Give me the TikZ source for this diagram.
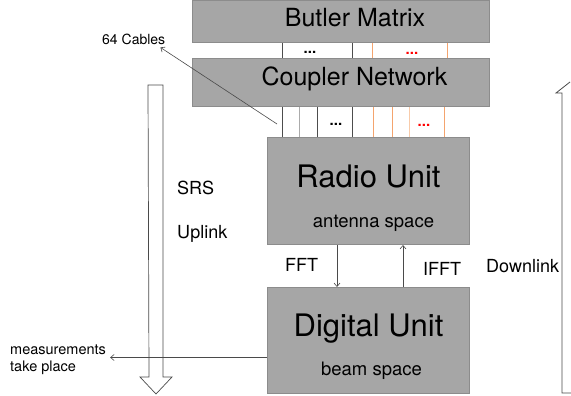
\documentclass[tikz,border=0pt]{standalone}
\usepackage{fontspec}
\setmainfont{TeX Gyre Heros}
\usetikzlibrary{arrows.meta}
\definecolor{boxfill}{HTML}{A6A6A6}
\definecolor{boxline}{HTML}{8C8C8C}
\definecolor{cabdark}{HTML}{4D4D4D}
\definecolor{cabgray}{HTML}{ABABAB}
\definecolor{caborange}{HTML}{F4A46E}
\definecolor{cablight}{HTML}{F8CBAA}
\definecolor{linegray}{HTML}{4A4A4A}
\definecolor{dotred}{HTML}{FF0000}
\begin{document}
\begin{tikzpicture}[x=1pt,y=-1pt,
  box/.style={draw=boxline,fill=boxfill,line width=1pt,inner sep=0pt,anchor=north west},
  lbl/.style={inner sep=0pt,anchor=base},
  lblw/.style={inner sep=0pt,anchor=base west},
  cable/.style={line width=0.8pt},
  conn/.style={draw=linegray,line width=0.6pt,-{Straight Barb[length=3.5pt,width=6pt]}},
  dotsnode/.style={inner sep=0pt,anchor=base,font=\fontsize{15}{15}\selectfont\bfseries}]
\useasboundingbox (0,0) rectangle (571,396);

% boxes
\node[box,minimum width=297pt,minimum height=42pt] (butler) at (192,0) {};
\node[box,minimum width=297pt,minimum height=48pt] (coupler) at (192,58) {};
\node[box,minimum width=202pt,minimum height=107pt] (radio) at (267,137) {};
\node[box,minimum width=202pt,minimum height=106pt] (digital) at (267,287) {};

% box texts
\node[lbl,font=\fontsize{25}{30}\selectfont] (tbutler) at (355,27) {Butler Matrix};
\node[lbl,font=\fontsize{25}{30}\selectfont] (tcoupler) at (354.5,85) {Coupler Network};
\node[lbl,font=\fontsize{31}{36}\selectfont] (tradio) at (368.5,187) {Radio Unit};
\node[lbl,font=\fontsize{18.5}{22}\selectfont] (tantenna) at (373.5,227) {antenna space};
\node[lbl,font=\fontsize{31}{36}\selectfont] (tdigital) at (368.5,336) {Digital Unit};
\node[lbl,font=\fontsize{18.5}{22}\selectfont] (tbeam) at (371.5,375) {beam space};

% cables butler - coupler
\foreach \x/\c in {282/cabdark,352/cabdark,372/caborange,447/caborange}
  \draw[cable,\c] (\x,0 |- butler.south) -- (\x,0 |- coupler.north);
% cables coupler - radio
\foreach \x/\c in {282/cabdark,299/cabgray,317/cabdark,352/cabdark,373/caborange,392/caborange,409/cablight,444/caborange}
  \draw[cable,\c] (\x,0 |- coupler.south) -- (\x,0 |- radio.north);

% dots
\node[dotsnode] (d1) at (310,54) {...};
\node[dotsnode,text=dotred] (d2) at (412,55) {...};
\node[dotsnode] (d3) at (336,125) {...};
\node[dotsnode,text=dotred] (d4) at (424,127) {...};

% 64 cables
\node[lblw,font=\fontsize{14}{16}\selectfont] (cables) at (102,45) {64 Cables};
\coordinate (cabtail) at (277,124);
\draw[conn] (cabtail) -- ([xshift=-5pt,yshift=-2pt]cables.south east);

% FFT / IFFT
\draw[conn] (337,0 |- radio.south) -- (337,0 |- digital.north);
\draw[conn] (403,0 |- digital.north) -- (403,0 |- radio.south);
\node[lblw,font=\fontsize{18}{22}\selectfont] (fft) at (285,271) {FFT};
\node[lblw,font=\fontsize{18}{22}\selectfont] (ifft) at (423,275) {IFFT};

% uplink big hollow arrow
\draw[linegray,line width=0.7pt,fill=white] (148,85) -- (163,85) -- (163,377) -- (172,377) -- (156,394) -- (140,377) -- (149,377) -- cycle;
\node[lblw,font=\fontsize{18}{22}\selectfont] (srs) at (177,194) {SRS};
\node[lblw,font=\fontsize{18}{22}\selectfont] (uplink) at (177,238) {Uplink};

% downlink bracket
\draw[linegray,line width=0.8pt] (570,82) -- (556,93) -- (562,93) -- (562,393) -- (571,393);
\node[lblw,font=\fontsize{18}{22}\selectfont] (downlink) at (486,272) {Downlink};

% measurements
\node[inner sep=0pt,anchor=north west,align=left,font=\fontsize{14.5}{17}\selectfont] (meas) at (10,344.5) {measurements\\take place};
\coordinate (mstart) at ([yshift=-17pt]digital.west);
\draw[conn] (mstart) -- ([xshift=4pt]mstart -| meas.east);
\end{tikzpicture}
\end{document}
